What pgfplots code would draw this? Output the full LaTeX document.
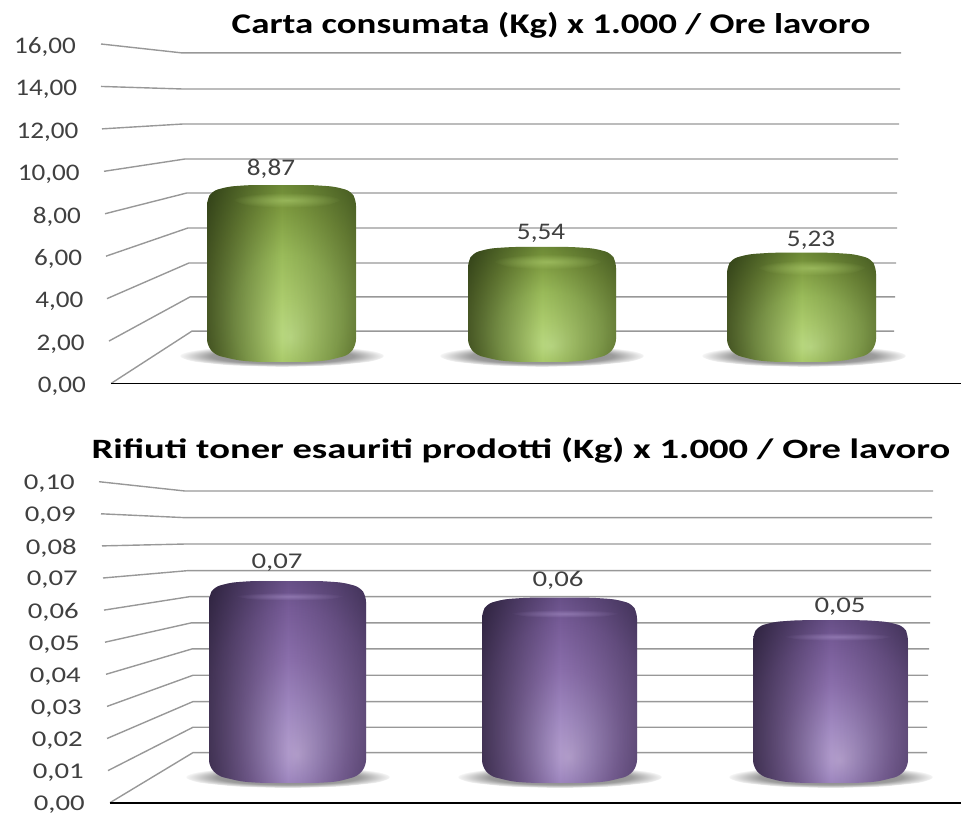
\documentclass[border=0pt]{standalone}
\usepackage{fontspec}
\usepackage{pgfplots}
\pgfplotsset{compat=1.18}
\usetikzlibrary{fadings}
\setmainfont{Carlito}
\newfontfamily\fA[FakeStretch=1.14]{Carlito}
\newfontfamily\fB[FakeStretch=1.28]{Carlito}
\newfontfamily\tA[FakeStretch=1.295]{Carlito}
\newfontfamily\tB[FakeStretch=1.378]{Carlito}
\definecolor{txt}{HTML}{404040}
\definecolor{gridc}{HTML}{989898}
\definecolor{ga}{HTML}{BBDA84}\definecolor{gb}{HTML}{ADCD6E}\definecolor{gc}{HTML}{9ABB5A}
\definecolor{gd}{HTML}{7E9B40}\definecolor{ge}{HTML}{5F7B2E}\definecolor{gf}{HTML}{40561E}
\definecolor{pa}{HTML}{B5A0CE}\definecolor{pb}{HTML}{A28BC2}\definecolor{pc}{HTML}{8B6FAC}
\definecolor{pd}{HTML}{775C98}\definecolor{pe}{HTML}{5A4579}\definecolor{pf}{HTML}{372A50}
\definecolor{sa}{HTML}{707070}\definecolor{sb}{HTML}{9C9C9C}
\pgfdeclareradialshading{greenbar}{\pgfpoint{3bp}{-18bp}}{color(0bp)=(ga);color(8bp)=(gb);color(18bp)=(gc);color(28bp)=(gd);color(38bp)=(ge);color(60bp)=(gf)}
\pgfdeclareradialshading{purplebar}{\pgfpoint{3bp}{-18bp}}{color(0bp)=(pa);color(8bp)=(pb);color(18bp)=(pc);color(28bp)=(pd);color(38bp)=(pe);color(60bp)=(pf)}
\pgfdeclareradialshading{floorshadow}{\pgfpointorigin}{color(0bp)=(sa);color(17bp)=(sb);color(25bp)=(white);color(50bp)=(white)}
\tikzfading[name=softoval,inner color=transparent!40,outer color=transparent!100]
\tikzfading[name=edgedark,left color=transparent!55,right color=transparent!75,middle color=transparent!100]
\tikzset{num/.style={/pgf/number format/fixed,/pgf/number format/fixed zerofill,/pgf/number format/precision=2,/pgf/number format/use comma,/pgf/number format/assume math mode=true}}
\pgfplotsset{
  chartbase/.style={scale only axis,width=961pt,xmin=0,xmax=961,clip=false,
    axis x line=none,axis y line=left,y axis line style={draw=none},
    major tick length=0pt,scaled y ticks=false},
  overlay/.style={scale only axis,width=961pt,xmin=0,xmax=961,clip=false,axis lines=none},
  gl/.style={gridc,line width=1.4pt,no marks,forget plot},
  sh/.style={shade,shading=floorshadow,draw=none,rounded corners=6pt,no marks,forget plot},
}
\newcommand\barlabel[4]{\addplot[draw=none,no marks,forget plot,nodes near coords,
   every node near coord/.style={anchor=center,yshift=#3pt,inner sep=0pt,text=txt,font=#4,num}]
   coordinates {(#1,#2)};}
\newcommand\cyl[2]{%
  \addplot[shade,shading=#1,draw=none,rounded corners=6pt,no marks,forget plot] coordinates {#2} --cycle;
  \addplot[fill=black,path fading=edgedark,draw=none,rounded corners=6pt,no marks,forget plot] coordinates {#2} --cycle;}
\newcommand\shA[7]{\addplot[sh] coordinates {(#1,-0.32)(#2,-0.025)(#3,0.191)(#4,0.27)(#5,0.191)(#6,-0.025)(#7,-0.32)(#6,-0.615)(#5,-0.831)(#4,-0.91)(#3,-0.831)(#2,-0.615)} --cycle;}
\newcommand\shB[7]{\addplot[sh] coordinates {(#1,-0.0057)(#2,-0.00362)(#3,-0.0021)(#4,-0.00155)(#5,-0.0021)(#6,-0.00362)(#7,-0.0057)(#6,-0.00778)(#5,-0.0093)(#4,-0.00985)(#3,-0.0093)(#2,-0.00778)} --cycle;}
\newcommand\glow[8]{\addplot[fill=#1,path fading=softoval,draw=none,rounded corners=3pt,no marks,forget plot] coordinates {(#2,#7)(#3,#6)(#4,#6)(#5,#7)(#4,#8)(#3,#8)} --cycle;}
\begin{document}
\begin{tikzpicture}
\path[use as bounding box] (0,0) rectangle (961pt,812pt);
% ---- chart 1: grid and ticks
\begin{axis}[chartbase,at={(0pt,428.5pt)},anchor=south west,height=339.5pt,ymin=0,ymax=16,
  ytick={0,2,4,6,8,10,12,14,16},
  yticklabel style={num,anchor=east,inner sep=0pt,xshift=86pt,yshift=-3pt,text=txt,font=\fA\fontsize{23.8pt}{24pt}\selectfont},
  yticklabel={\pgfmathsetlengthmacro\hs{\ticknum*1.25}\pgfmathprintnumber{\tick}\kern\hs\relax},
  title={\tA\fontsize{28.5pt}{32pt}\selectfont\bfseries Carta consumata (Kg) x 1.000 / Ore lavoro},
  title style={at={(0.5734,1.038)},anchor=center,inner sep=0pt,text=black}]
\addplot[gl] coordinates {(101,16)(182,15.58)(901,15.58)};
\addplot[gl] coordinates {(101,14)(182,13.88)(900,13.88)};
\addplot[gl] coordinates {(102,12)(183,12.23)(899,12.23)};
\addplot[gl] coordinates {(104,10)(185,10.58)(898,10.58)};
\addplot[gl] coordinates {(105,8)(187,8.98)(897,8.98)};
\addplot[gl] coordinates {(106,6)(188,7.33)(897,7.33)};
\addplot[gl] coordinates {(107,4)(189,5.68)(896,5.68)};
\addplot[gl] coordinates {(109,2)(190,4.08)(895,4.08)};
\addplot[gl] coordinates {(111,0)(192,2.47)(894,2.47)};
\addplot[black,line width=1.6pt,no marks,forget plot] coordinates {(111,0)(961,0)};
\end{axis}
% ---- chart 1: cylinders
\begin{axis}[overlay,at={(0pt,450pt)},anchor=south west,height=318pt,ymin=-0.645,ymax=16.452]
\shA{177}{191}{230}{282}{334}{373}{387}
\shA{437}{451}{490}{542}{594}{633}{647}
\shA{699}{713}{752}{804}{856}{895}{909}
\cyl{greenbar}{(207,8.064)(212,8.547)(229,8.789)(251,8.87)(311,8.87)(334,8.789)(351,8.547)(356,8.064)(356,0.27)(349,-0.269)(327,-0.565)(307,-0.645)(259,-0.645)(239,-0.565)(215,-0.269)(207,0.27)}
\cyl{greenbar}{(468,4.734)(473,5.217)(490,5.459)(513,5.54)(571,5.54)(594,5.459)(611,5.217)(616,4.734)(616,0.27)(608,-0.269)(586,-0.565)(566,-0.645)(519,-0.645)(499,-0.565)(476,-0.269)(468,0.27)}
\cyl{greenbar}{(727,4.424)(732,4.907)(749,5.149)(772,5.23)(831,5.23)(854,5.149)(871,4.907)(876,4.424)(876,0.27)(868,-0.269)(845,-0.565)(825,-0.645)(777,-0.645)(757,-0.565)(735,-0.269)(727,0.27)}
\glow{gb}{232}{252}{322}{342}{8.46}{8.06}{7.66}
\glow{gb}{493}{513}{583}{603}{5.15}{4.75}{4.35}
\glow{gb}{757}{777}{847}{867}{4.82}{4.42}{4.02}
\barlabel{271}{8.87}{16}{\fA\fontsize{23.8pt}{24pt}\selectfont}
\barlabel{541}{5.54}{14}{\fA\fontsize{23.8pt}{24pt}\selectfont}
\barlabel{811}{5.23}{12}{\fA\fontsize{23.8pt}{24pt}\selectfont}
\end{axis}
% ---- chart 2: grid and ticks
\begin{axis}[chartbase,at={(0pt,9.3pt)},anchor=south west,height=321pt,ymin=0,ymax=0.1,
  ytick={0,0.01,0.02,0.03,0.04,0.05,0.06,0.07,0.08,0.09,0.1},
  yticklabel style={num,anchor=east,inner sep=0pt,xshift=85pt,yshift=-2pt,text=txt,font=\fB\fontsize{22.5pt}{24pt}\selectfont},
  yticklabel={\pgfmathsetlengthmacro\hs{\ticknum*1.0}\pgfmathprintnumber{\tick}\kern\hs\relax},
  title={\tB\fontsize{28pt}{32pt}\selectfont\bfseries Rifiuti toner esauriti prodotti (Kg) x 1.000 / Ore lavoro},
  title style={at={(0.5421,1.08)},anchor=center,inner sep=0pt,text=black}]
\addplot[gl] coordinates {(99,0.10)(185,0.0971)(933,0.0971)};
\addplot[gl] coordinates {(101,0.09)(185,0.0888)(932,0.0888)};
\addplot[gl] coordinates {(102,0.08)(187,0.0806)(931,0.0806)};
\addplot[gl] coordinates {(103,0.07)(188,0.0723)(931,0.0723)};
\addplot[gl] coordinates {(104,0.06)(190,0.0642)(931,0.0642)};
\addplot[gl] coordinates {(105,0.05)(191,0.0560)(930,0.0560)};
\addplot[gl] coordinates {(106,0.04)(192,0.0479)(929,0.0479)};
\addplot[gl] coordinates {(107,0.03)(193,0.0397)(928,0.0397)};
\addplot[gl] coordinates {(107,0.02)(193,0.0315)(928,0.0315)};
\addplot[gl] coordinates {(108,0.01)(193,0.0235)(927,0.0235)};
\addplot[gl] coordinates {(110,0)(193,0.0156)(927,0.0156)};
\addplot[black,line width=1.6pt,no marks,forget plot] coordinates {(110,0)(961,0)};
\end{axis}
% ---- chart 2: cylinders
\begin{axis}[overlay,at={(0pt,29pt)},anchor=south west,height=301pt,ymin=-0.00792,ymax=0.10566]
\shB{183}{197}{236}{288}{340}{379}{393}
\shB{455}{469}{508}{560}{612}{651}{665}
\shB{726}{740}{779}{831}{883}{922}{936}
\cyl{purplebar}{(209,0.0626)(214,0.0660)(231,0.0677)(253,0.0683)(320,0.0683)(343,0.0677)(360,0.0660)(366,0.0626)(366,-0.0015)(358,-0.0053)(337,-0.0074)(317,-0.0079)(262,-0.0079)(242,-0.0074)(218,-0.0053)(209,-0.0015)}
\cyl{purplebar}{(482,0.0563)(487,0.0597)(504,0.0614)(527,0.0620)(592,0.0620)(615,0.0614)(632,0.0597)(637,0.0563)(637,-0.0015)(629,-0.0053)(606,-0.0074)(586,-0.0079)(533,-0.0079)(513,-0.0074)(490,-0.0053)(482,-0.0015)}
\cyl{purplebar}{(753,0.0478)(758,0.0512)(775,0.0529)(798,0.0535)(864,0.0535)(887,0.0529)(904,0.0512)(908,0.0478)(908,-0.0015)(900,-0.0053)(877,-0.0074)(857,-0.0079)(802,-0.0079)(782,-0.0074)(761,-0.0053)(753,-0.0015)}
\glow{pb}{235}{255}{325}{345}{0.0640}{0.0625}{0.0610}
\glow{pb}{510}{530}{600}{620}{0.0575}{0.0560}{0.0545}
\glow{pb}{783}{803}{873}{893}{0.0488}{0.0473}{0.0458}
\barlabel{277}{0.0683}{18}{\fB\fontsize{22.5pt}{24pt}\selectfont}
\barlabel{558}{0.0620}{17}{\fB\fontsize{22.5pt}{24pt}\selectfont}
\barlabel{840}{0.0535}{14}{\fB\fontsize{22.5pt}{24pt}\selectfont}
\end{axis}
\end{tikzpicture}
\end{document}
